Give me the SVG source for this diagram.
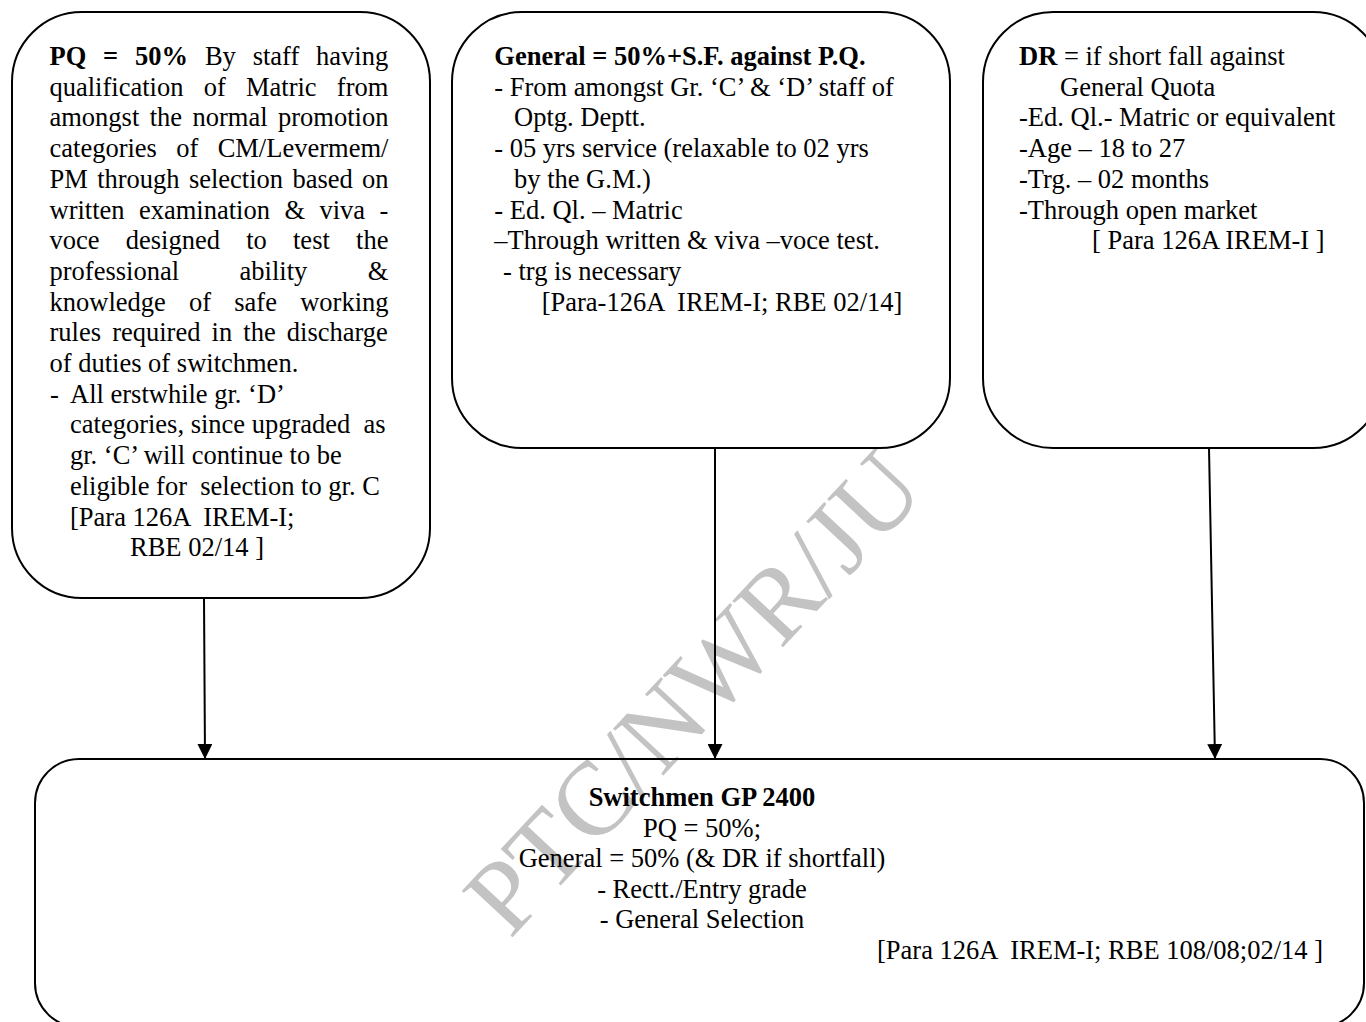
<svg xmlns="http://www.w3.org/2000/svg" width="1366" height="1022" viewBox="0 0 1366 1022">
<style>
.t { font-family: "Liberation Serif", "Times New Roman", serif; font-size: 26.5px; fill: #000; white-space: pre; }
.b { font-weight: bold; }
.box { fill: none; stroke: #000; stroke-width: 2; }
.conn { stroke: #000; stroke-width: 2; fill: none; marker-end: url(#arrow); }
.wm { font-family: "Liberation Serif", "Times New Roman", serif; font-size: 105px; fill: #c3c3c3; }
</style>
<defs>
<marker id="arrow" markerWidth="15" markerHeight="15" refX="15" refY="7.5" orient="auto" markerUnits="userSpaceOnUse"><path d="M0,0 L15,7.5 L0,15 Z" fill="#000"/></marker>
</defs>
<rect width="1366" height="1022" fill="#fff"/>
<text class="wm" transform="translate(510,940) rotate(-47)">PTC/NWR/JU</text>

<g id="node-pq">
<rect class="box" x="12" y="12" width="418" height="586" rx="70" ry="70"/>
<text class="t" x="49.5" y="65" style="word-spacing:10.2px"><tspan class="b">PQ = 50%</tspan> By staff having</text>
<text class="t" x="49.5" y="95.7" style="word-spacing:13.6px">qualification of Matric from</text>
<text class="t" x="49.5" y="126.4" style="word-spacing:3.8px">amongst the normal promotion</text>
<text class="t" x="49.5" y="157.1" style="word-spacing:12.7px">categories of CM/Levermem/</text>
<text class="t" x="49.5" y="187.8" style="word-spacing:2.7px">PM through selection based on</text>
<text class="t" x="49.5" y="218.5" style="word-spacing:7.8px">written examination &amp; viva -</text>
<text class="t" x="49.5" y="249.2" style="word-spacing:19.6px">voce designed to test the</text>
<text class="t" x="49.5" y="279.9" style="word-spacing:53.9px">professional ability &amp;</text>
<text class="t" x="49.5" y="310.6" style="word-spacing:16.6px">knowledge of safe working</text>
<text class="t" x="49.5" y="341.3" style="word-spacing:4.5px">rules required in the discharge</text>
<text class="t" x="49.5" y="372">of duties of switchmen.</text>
<text class="t" x="50" y="402.7">-</text>
<text class="t" x="70" y="402.7">All erstwhile gr. ‘D’</text>
<text class="t" x="70" y="433.4">categories, since upgraded  as</text>
<text class="t" x="70" y="464.1">gr. ‘C’ will continue to be</text>
<text class="t" x="70" y="494.8">eligible for  selection to gr. C</text>
<text class="t" x="70" y="525.5">[Para 126A  IREM-I;</text>
<text class="t" x="130" y="556.2">RBE 02/14 ]</text>
</g>

<g id="node-general">
<rect class="box" x="452" y="12" width="498" height="436" rx="70" ry="70"/>
<text class="t b" x="494.3" y="65">General = 50%+S.F. against P.Q.</text>
<text class="t" x="494.3" y="95.7">- From amongst Gr. ‘C’ &amp; ‘D’ staff of</text>
<text class="t" x="514" y="126.4">Optg. Deptt.</text>
<text class="t" x="494.3" y="157.1">- 05 yrs service (relaxable to 02 yrs</text>
<text class="t" x="514" y="187.8">by the G.M.)</text>
<text class="t" x="494.3" y="218.5">- Ed. Ql. – Matric</text>
<text class="t" x="494.3" y="249.2">–Through written &amp; viva –voce test.</text>
<text class="t" x="503" y="279.9">- trg is necessary</text>
<text class="t" x="541.7" y="310.6">[Para-126A  IREM-I; RBE 02/14]</text>
</g>

<g id="node-dr">
<rect class="box" x="983" y="12" width="400" height="436" rx="70" ry="70"/>
<text class="t" x="1019" y="65"><tspan class="b">DR</tspan> = if short fall against</text>
<text class="t" x="1060" y="95.7">General Quota</text>
<text class="t" x="1019" y="126.4">-Ed. Ql.- Matric or equivalent</text>
<text class="t" x="1019" y="157.1">-Age – 18 to 27</text>
<text class="t" x="1019" y="187.8">-Trg. – 02 months</text>
<text class="t" x="1019" y="218.5">-Through open market</text>
<text class="t" x="1092" y="249.2">[ Para 126A IREM-I ]</text>
</g>

<g id="node-switchmen">
<rect class="box" x="35" y="759" width="1329" height="268" rx="44" ry="44"/>
<text class="t b" x="702" y="806" text-anchor="middle">Switchmen GP 2400</text>
<text class="t" x="702" y="836.5" text-anchor="middle">PQ = 50%;</text>
<text class="t" x="702" y="867" text-anchor="middle">General = 50% (&amp; DR if shortfall)</text>
<text class="t" x="702" y="897.5" text-anchor="middle">- Rectt./Entry grade</text>
<text class="t" x="702" y="928" text-anchor="middle">- General Selection</text>
<text class="t" x="877" y="958.5">[Para 126A  IREM-I; RBE 108/08;02/14 ]</text>
</g>

<g id="connectors">
<line class="conn" x1="204" y1="598" x2="205" y2="759"/>
<line class="conn" x1="715" y1="448" x2="715" y2="759"/>
<line class="conn" x1="1209" y1="448" x2="1215" y2="759"/>
</g>
</svg>
